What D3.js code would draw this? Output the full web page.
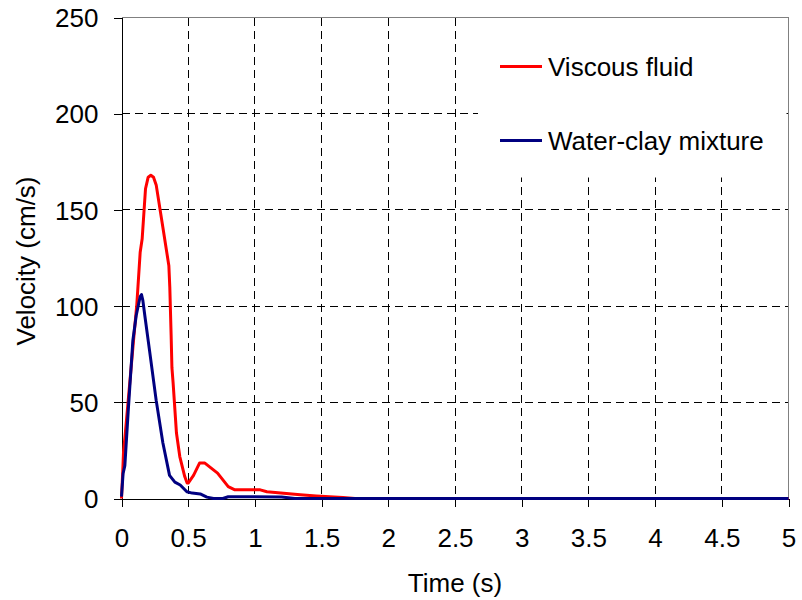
<!DOCTYPE html>
<html>
<head>
<meta charset="utf-8">
<script src="https://cdn.jsdelivr.net/npm/d3@7"></script>
<style>
  html, body { margin: 0; padding: 0; background: #fff; }
  svg { display: block; font-family: "Liberation Sans", Arial, sans-serif; }
</style>
</head>
<body>
<svg id="chart" width="802" height="600"></svg>
<script>
// Velocity time histories for the two flow materials
const viscousTime = [0, 0.01, 0.015, 0.03, 0.09, 0.115, 0.14, 0.155, 0.18, 0.2, 0.22, 0.24, 0.26, 0.31, 0.355, 0.362, 0.372, 0.378, 0.387, 0.412, 0.437, 0.474, 0.492, 0.5, 0.54, 0.585, 0.625, 0.72, 0.8, 0.85, 1.04, 1.09, 1.34, 1.46, 1.66, 1.75, 5];
const viscousVel  = [0, 15, 24, 35, 82, 101, 128, 135, 161, 167, 168, 167, 163, 141, 121, 110, 85, 68, 60, 34, 21.8, 11.4, 8, 8, 12, 18.4, 18.4, 13.2, 6.2, 4.5, 4.5, 3.5, 1.9, 1.3, 0.5, 0, 0];

const clayTime = [0, 0.012, 0.025, 0.05, 0.085, 0.11, 0.14, 0.15, 0.16, 0.175, 0.21, 0.26, 0.31, 0.36, 0.4, 0.44, 0.49, 0.53, 0.59, 0.64, 0.69, 0.76, 0.8, 1.2, 1.3, 5];
const clayVel  = [1, 13, 17, 45, 82, 95, 105, 106, 103, 95, 77, 51, 29, 12, 8.5, 7, 3.5, 2.8, 2.4, 0.7, 0, 0, 0.9, 0.8, 0, 0];

const xTicks = [0, 0.5, 1, 1.5, 2, 2.5, 3, 3.5, 4, 4.5, 5];
const yTicks = [0, 50, 100, 150, 200, 250];

const seriesNames  = ["Viscous fluid", "Water-clay mixture"];
const seriesColors = ["#ff0000", "#000080"];

const svg = d3.select("#chart");
const plotL = 121.5, plotR = 788.5, plotT = 17.5, plotB = 498.5;
const fontSize = 26;

const x = d3.scaleLinear().domain([0, 5]).range([plotL, plotR]);
const y = d3.scaleLinear().domain([0, 250]).range([plotB, plotT]);

// dashed grid
const grid = svg.append("g").attr("stroke", "#000").attr("stroke-width", 1)
  .attr("stroke-dasharray", "8,5").attr("shape-rendering", "crispEdges");
grid.selectAll("line.v").data(xTicks.filter(d => d > 0 && d < 5)).join("line").attr("class", "v")
  .attr("x1", d => x(d)).attr("x2", d => x(d)).attr("y1", plotT).attr("y2", plotB);
grid.selectAll("line.h").data(yTicks.filter(d => d > 0 && d < 250)).join("line").attr("class", "h")
  .attr("y1", d => y(d)).attr("y2", d => y(d)).attr("x1", plotL).attr("x2", plotR);

// legend background hides the grid behind it
svg.append("rect").attr("x", 478).attr("y", plotT + 0.5).attr("width", plotR - 478 - 2).attr("height", 177 - plotT)
  .attr("fill", "#fff");

// frame: top and right in grey
svg.append("path").attr("d", `M${plotL},${plotT}H${plotR}V${plotB}`)
  .attr("fill", "none").attr("stroke", "#808080").attr("stroke-width", 1).attr("shape-rendering", "crispEdges");

// axes
const xAxis = d3.axisBottom(x).tickValues(xTicks).tickSize(8).tickPadding(22).tickFormat(d3.format("~g"));
const yAxis = d3.axisLeft(y).tickValues(yTicks).tickSize(8).tickPadding(15).tickFormat(d3.format("~g"));

const gx = svg.append("g").attr("transform", `translate(0,${plotB})`).call(xAxis);
const gy = svg.append("g").attr("transform", `translate(${plotL},0)`).call(yAxis);
[gx, gy].forEach(g => {
  g.select(".domain").attr("stroke", "#000").attr("shape-rendering", "crispEdges");
  g.selectAll(".tick line").attr("stroke", "#000").attr("shape-rendering", "crispEdges");
  g.selectAll(".tick text").attr("font-size", fontSize).attr("fill", "#000")
    .attr("font-family", "Liberation Sans, Arial, sans-serif");
});
gy.selectAll(".tick text").attr("dy", "0.35em");
gx.selectAll(".tick text").attr("dy", "0.71em");

// series
const line = d3.line().x(d => x(d[0])).y(d => y(d[1]));
const series = [
  d3.zip(viscousTime, viscousVel),
  d3.zip(clayTime, clayVel)
];
svg.append("g").selectAll("path").data(series).join("path")
  .attr("d", line).attr("fill", "none")
  .attr("stroke", (d, i) => seriesColors[i]).attr("stroke-width", 3)
  .attr("stroke-linejoin", "round");

// legend
const lg = svg.append("g");
const legendY = [66.5, 140.5];
seriesNames.forEach((name, i) => {
  lg.append("line").attr("x1", 500).attr("x2", 542).attr("y1", legendY[i]).attr("y2", legendY[i])
    .attr("stroke", seriesColors[i]).attr("stroke-width", 3);
  lg.append("text").attr("x", 548).attr("y", legendY[i]).attr("dy", "0.35em")
    .attr("font-size", fontSize).attr("fill", "#000").text(name);
});

// axis titles
svg.append("text").attr("x", x(2.5)).attr("y", 592).attr("text-anchor", "middle")
  .attr("font-size", fontSize).attr("fill", "#000").text("Time (s)");
svg.append("text").attr("transform", "translate(35,261) rotate(-90)")
  .attr("text-anchor", "middle").attr("font-size", fontSize).attr("fill", "#000").text("Velocity (cm/s)");
</script>
</body>
</html>
